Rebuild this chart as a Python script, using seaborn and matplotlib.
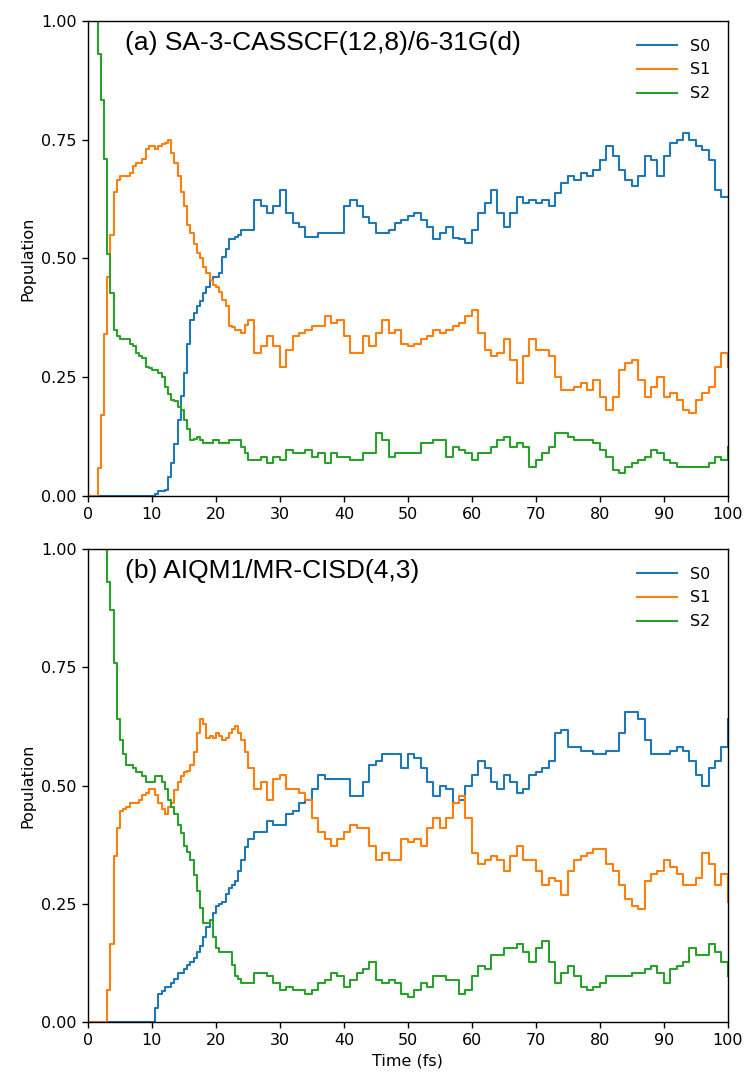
import numpy as np
import pandas as pd
import matplotlib
matplotlib.use("Agg")
import matplotlib.pyplot as plt
import seaborn as sns

# time grids (fs)
time_main = [0, 0.5, 1, 1.5, 2, 2.5, 3, 3.5, 4, 4.5, 5] + list(range(6, 101))
time_half = [t + 0.5 for t in range(5, 25)]

states = ["S0", "S1", "S2"]
colors = ["#1f77b4", "#ff7f0e", "#2ca02c"]

# ---- panel (a) SA-3-CASSCF(12,8)/6-31G(d)
a_s0 = [0]*11 + [0, 0, 0, 0, 0,
        0.01, 0.013, 0.07, 0.16, 0.258, 0.37, 0.40, 0.427, 0.455, 0.462,
        0.504, 0.54, 0.546, 0.56, 0.56, 0.624, 0.61, 0.596, 0.61, 0.645,
        0.596, 0.574, 0.567, 0.546, 0.546, 0.553, 0.553, 0.553, 0.553, 0.61,
        0.624, 0.61, 0.588, 0.574, 0.553, 0.553, 0.56, 0.574, 0.58, 0.59,
        0.595, 0.58, 0.567, 0.54, 0.553, 0.567, 0.543, 0.54, 0.532, 0.56,
        0.595, 0.617, 0.645, 0.595, 0.567, 0.595, 0.63, 0.617, 0.623, 0.617,
        0.623, 0.61, 0.638, 0.659, 0.673, 0.666, 0.68, 0.673, 0.687, 0.708,
        0.736, 0.715, 0.687, 0.666, 0.652, 0.673, 0.715, 0.708, 0.673, 0.715,
        0.743, 0.75, 0.764, 0.75, 0.736, 0.729, 0.708, 0.645, 0.63, 0.63]
a_s0_half = [0, 0, 0, 0, 0, 0.005, 0.01, 0.04, 0.11, 0.21,
             0.32, 0.385, 0.41, 0.44, 0.46, 0.47, 0.52, 0.54, 0.55, 0.56]
a_s1 = [0, 0, 0, 0.06, 0.17, 0.34, 0.46, 0.55, 0.64, 0.666, 0.673,
        0.673, 0.694, 0.70, 0.73, 0.736,
        0.736, 0.743, 0.722, 0.673, 0.61, 0.553, 0.511, 0.483, 0.455, 0.44,
        0.413, 0.357, 0.35, 0.343, 0.37, 0.30, 0.315, 0.336, 0.315, 0.272,
        0.307, 0.336, 0.343, 0.35, 0.357, 0.357, 0.378, 0.364, 0.37, 0.336,
        0.30, 0.30, 0.336, 0.315, 0.343, 0.37, 0.343, 0.35, 0.32, 0.315,
        0.32, 0.33, 0.336, 0.35, 0.343, 0.35, 0.357, 0.364, 0.378, 0.392,
        0.343, 0.307, 0.294, 0.30, 0.33, 0.287, 0.237, 0.294, 0.33, 0.307,
        0.307, 0.294, 0.251, 0.223, 0.223, 0.23, 0.237, 0.223, 0.244, 0.209,
        0.181, 0.209, 0.265, 0.28, 0.287, 0.244, 0.209, 0.23, 0.251, 0.209,
        0.216, 0.202, 0.181, 0.174, 0.202, 0.216, 0.23, 0.272, 0.30, 0.272]
a_s1_half = [0.673, 0.68, 0.70, 0.71, 0.736, 0.73, 0.74, 0.75, 0.70, 0.64,
             0.57, 0.53, 0.50, 0.47, 0.445, 0.43, 0.40, 0.355, 0.35, 0.36]
a_s2 = [1.0, 1.0, 1.0, 0.93, 0.834, 0.71, 0.51, 0.427, 0.35, 0.336, 0.33,
        0.33, 0.315, 0.294, 0.272, 0.265,
        0.258, 0.23, 0.202, 0.188, 0.16, 0.118, 0.125, 0.111, 0.111, 0.118,
        0.111, 0.118, 0.118, 0.104, 0.076, 0.076, 0.083, 0.069, 0.083, 0.076,
        0.097, 0.09, 0.09, 0.097, 0.083, 0.09, 0.069, 0.09, 0.083, 0.083,
        0.076, 0.076, 0.09, 0.09, 0.132, 0.118, 0.083, 0.09, 0.09, 0.09,
        0.09, 0.111, 0.111, 0.118, 0.118, 0.083, 0.104, 0.097, 0.09, 0.076,
        0.09, 0.09, 0.104, 0.118, 0.125, 0.104, 0.111, 0.104, 0.062, 0.076,
        0.09, 0.104, 0.132, 0.132, 0.125, 0.118, 0.118, 0.118, 0.111, 0.097,
        0.083, 0.055, 0.048, 0.062, 0.069, 0.076, 0.083, 0.097, 0.09, 0.076,
        0.069, 0.062, 0.062, 0.062, 0.062, 0.062, 0.069, 0.083, 0.076, 0.104]
a_s2_half = [0.33, 0.32, 0.30, 0.29, 0.27, 0.265, 0.25, 0.215, 0.20, 0.18,
             0.14, 0.12, 0.118, 0.111, 0.118, 0.111, 0.111, 0.118, 0.118, 0.09]

# ---- panel (b) AIQM1/MR-CISD(4,3)
b_s0 = [0]*11 + [0, 0, 0, 0, 0,
        0.06, 0.075, 0.082, 0.104, 0.112, 0.127, 0.149, 0.179, 0.216, 0.246,
        0.253, 0.283, 0.298, 0.343, 0.387, 0.402, 0.402, 0.425, 0.417, 0.417,
        0.44, 0.447, 0.462, 0.47, 0.492, 0.522, 0.514, 0.514, 0.514, 0.514,
        0.477, 0.477, 0.507, 0.544, 0.551, 0.566, 0.566, 0.566, 0.537, 0.566,
        0.559, 0.537, 0.507, 0.477, 0.50, 0.492, 0.462, 0.47, 0.50, 0.522,
        0.551, 0.537, 0.507, 0.492, 0.522, 0.507, 0.484, 0.492, 0.522, 0.529,
        0.537, 0.551, 0.611, 0.618, 0.581, 0.581, 0.574, 0.574, 0.566, 0.566,
        0.574, 0.574, 0.611, 0.656, 0.656, 0.641, 0.596, 0.566, 0.566, 0.566,
        0.574, 0.581, 0.574, 0.551, 0.522, 0.50, 0.537, 0.551, 0.581, 0.641]
b_s0_half = [0, 0, 0, 0, 0, 0.03, 0.065, 0.075, 0.09, 0.104,
             0.12, 0.135, 0.16, 0.20, 0.23, 0.25, 0.27, 0.29, 0.32, 0.37]
b_s1 = [0, 0, 0, 0, 0, 0, 0.067, 0.164, 0.35, 0.41, 0.447,
        0.455, 0.462, 0.47, 0.484, 0.492,
        0.462, 0.44, 0.462, 0.507, 0.529, 0.544, 0.611, 0.63, 0.604, 0.611,
        0.596, 0.611, 0.626, 0.596, 0.537, 0.492, 0.507, 0.47, 0.514, 0.522,
        0.492, 0.492, 0.484, 0.47, 0.432, 0.402, 0.387, 0.373, 0.387, 0.402,
        0.417, 0.41, 0.41, 0.373, 0.343, 0.358, 0.343, 0.343, 0.387, 0.38,
        0.387, 0.373, 0.41, 0.432, 0.41, 0.432, 0.462, 0.477, 0.432, 0.358,
        0.335, 0.343, 0.35, 0.343, 0.32, 0.35, 0.373, 0.343, 0.343, 0.32,
        0.29, 0.305, 0.298, 0.268, 0.32, 0.343, 0.35, 0.358, 0.365, 0.365,
        0.335, 0.32, 0.29, 0.26, 0.246, 0.238, 0.298, 0.313, 0.32, 0.343,
        0.328, 0.313, 0.29, 0.29, 0.305, 0.358, 0.335, 0.29, 0.313, 0.253]
b_s1_half = [0.45, 0.462, 0.462, 0.48, 0.492, 0.48, 0.45, 0.455, 0.49, 0.52,
             0.53, 0.57, 0.64, 0.60, 0.60, 0.604, 0.60, 0.62, 0.61, 0.57]
b_s2 = [1.0, 1.0, 1.0, 1.0, 1.0, 1.0, 0.93, 0.87, 0.76, 0.64, 0.596,
        0.544, 0.537, 0.529, 0.507, 0.507,
        0.52, 0.492, 0.455, 0.417, 0.373, 0.343, 0.276, 0.209, 0.216, 0.156,
        0.149, 0.149, 0.097, 0.082, 0.082, 0.104, 0.104, 0.097, 0.082, 0.067,
        0.075, 0.067, 0.067, 0.06, 0.067, 0.082, 0.089, 0.104, 0.097, 0.075,
        0.089, 0.104, 0.112, 0.127, 0.089, 0.082, 0.089, 0.082, 0.06, 0.052,
        0.067, 0.082, 0.075, 0.097, 0.097, 0.089, 0.089, 0.06, 0.067, 0.097,
        0.119, 0.112, 0.142, 0.142, 0.156, 0.156, 0.164, 0.149, 0.127, 0.156,
        0.171, 0.127, 0.082, 0.104, 0.119, 0.097, 0.075, 0.067, 0.075, 0.082,
        0.097, 0.097, 0.097, 0.097, 0.104, 0.104, 0.112, 0.119, 0.104, 0.082,
        0.112, 0.119, 0.127, 0.156, 0.142, 0.142, 0.164, 0.149, 0.127, 0.097]
b_s2_half = [0.566, 0.544, 0.529, 0.52, 0.507, 0.52, 0.507, 0.47, 0.44, 0.40,
             0.36, 0.31, 0.24, 0.209, 0.18, 0.149, 0.149, 0.12, 0.09, 0.082]

titles = ["(a) SA-3-CASSCF(12,8)/6-31G(d)", "(b) AIQM1/MR-CISD(4,3)"]
yticks = [0.0, 0.25, 0.5, 0.75, 1.0]
xticks = list(range(0, 101, 10))


def make_df(series):
    frames = []
    for name, (main, half) in zip(states, series):
        frames.append(pd.DataFrame({"time": time_main + time_half,
                                    "pop": list(main) + list(half),
                                    "state": name}))
    df = pd.concat(frames, ignore_index=True)
    return df.sort_values(["state", "time"]).reset_index(drop=True)


panels = [make_df([(a_s0, a_s0_half), (a_s1, a_s1_half), (a_s2, a_s2_half)]),
          make_df([(b_s0, b_s0_half), (b_s1, b_s1_half), (b_s2, b_s2_half)])]

fig = plt.figure(figsize=(7.45, 10.75), dpi=100)
axes = [fig.add_axes([0.118, 0.5386, 0.859, 0.4419]),
        fig.add_axes([0.118, 0.0493, 0.859, 0.4400])]

FS = 11.5
for i, (ax, df) in enumerate(zip(axes, panels)):
    sns.lineplot(data=df, x="time", y="pop", hue="state", palette=colors,
                 estimator=None, sort=False, drawstyle="steps-post",
                 linewidth=1.5, ax=ax)
    ax.set_xlim(0, 100)
    ax.set_ylim(0, 1)
    ax.set_xticks(xticks)
    ax.set_yticks(yticks)
    ax.set_yticklabels([f"{v:.2f}" for v in yticks])
    ax.tick_params(labelsize=FS, length=4.5, width=1.0)
    for sp in ax.spines.values():
        sp.set_linewidth(1.0)
    ax.set_ylabel("Population", fontsize=FS)
    ax.set_xlabel("Time (fs)" if i == 1 else "", fontsize=FS)
    ax.text(0.058, 0.954, titles[i], transform=ax.transAxes, fontsize=19,
            family="Liberation Sans", va="center", ha="left")
    ax.legend(loc="upper right", frameon=False, fontsize=FS,
              handlelength=2.5, labelspacing=0.55, borderaxespad=0.7)

fig.savefig("out.png", dpi=100)
